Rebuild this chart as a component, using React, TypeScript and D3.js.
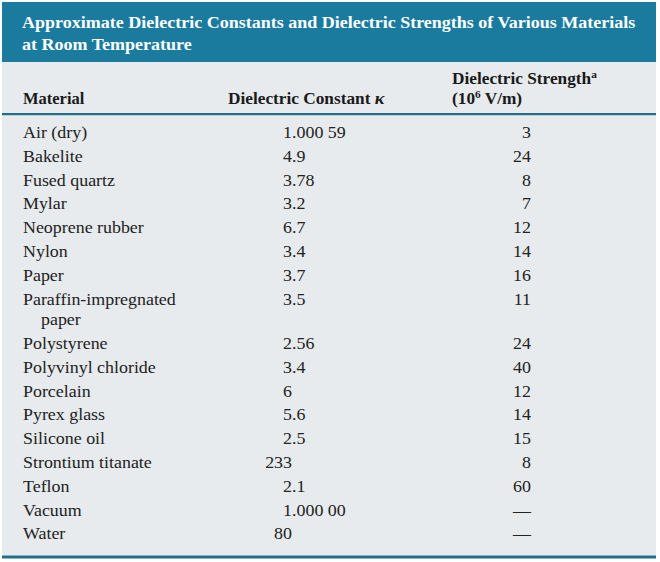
import React from "react";
import * as d3 from "d3";

const titleLines = [
  "Approximate Dielectric Constants and Dielectric Strengths of Various Materials",
  "at Room Temperature",
];
const materials = [
  ["Air (dry)"],
  ["Bakelite"],
  ["Fused quartz"],
  ["Mylar"],
  ["Neoprene rubber"],
  ["Nylon"],
  ["Paper"],
  ["Paraffin-impregnated", "paper"],
  ["Polystyrene"],
  ["Polyvinyl chloride"],
  ["Porcelain"],
  ["Pyrex glass"],
  ["Silicone oil"],
  ["Strontium titanate"],
  ["Teflon"],
  ["Vacuum"],
  ["Water"],
];
const constants = [
  "1.000 59", "4.9", "3.78", "3.2", "6.7", "3.4", "3.7", "3.5", "2.56",
  "3.4", "6", "5.6", "2.5", "233", "2.1", "1.000 00", "80",
];
const strengths = [
  "3", "24", "8", "7", "12", "14", "16", "11", "24", "40", "12", "14", "15",
  "8", "60", "—", "—",
];

const W = 660;
const H = 562;
const TEAL = "#1a7b9e";
const LINE = "#1f6f8a";
const BG = "#e7ebee";
const SERIF = "'Liberation Serif', 'Times New Roman', serif";

function T({
  x,
  y,
  sx = 1.12,
  anchor = "start",
  children,
  ...rest
}: any) {
  return (
    <text
      transform={`translate(${x},${y}) scale(${sx},1)`}
      textAnchor={anchor}
      {...rest}
    >
      {children}
    </text>
  );
}

export default function App() {
  const rowPitch = 23.8;
  const extraLine = 20.6;
  const starts: number[] = [];
  let acc = 0;
  materials.forEach((m) => {
    starts.push(acc);
    acc += rowPitch + (m.length - 1) * extraLine;
  });
  const y = d3.scaleLinear().domain([0, 1]).range([138, 139]);
  const xMat = 23;
  const xDec = 292; // decimal alignment point
  const xStr = 531;

  return (
    <svg
      width={W}
      height={H}
      style={{ position: "absolute", left: 0, top: 0, background: "#fff" }}
      fontFamily={SERIF}
    >
      <rect x={2} y={2} width={654} height={60} fill={TEAL} />
      <rect x={2} y={62} width={654} height={51} fill={BG} />
      <rect x={2} y={113} width={654} height={2.5} fill={LINE} />
      <rect x={2} y={115.5} width={654} height={440} fill={BG} />
      <rect x={2} y={555.5} width={654} height={3} fill={LINE} />

      {titleLines.map((t, i) => (
        <T
          key={i}
          x={22}
          y={28 + i * 22}
          sx={1.06}
          fill="#fff"
          fontWeight="bold"
          fontSize={17}
        >
          {t}
        </T>
      ))}

      <g fontWeight="bold" fontSize={16} fill="#1a1a1a">
        <T x={23} y={104} sx={1.03}>Material</T>
        <T x={228} y={104} sx={1.08}>
          Dielectric Constant{" "}
          <tspan fontStyle="italic" fontSize={17}>κ</tspan>
        </T>
        <T x={452} y={84} sx={1.08}>
          Dielectric Strength
          <tspan fontSize={10.5} dy={-6}>a</tspan>
        </T>
        <T x={452} y={104} sx={1.08}>
          (10<tspan fontSize={10.5} dy={-6}>6</tspan>
          <tspan dy={6}> V/m)</tspan>
        </T>
      </g>

      <g fontSize={16} fill="#222">
        {materials.map((m, i) => {
          const by = y(0) + starts[i];
          const v = constants[i];
          const k = v.indexOf(".");
          const intPart = k >= 0 ? v.slice(0, k) : v;
          const rest = k >= 0 ? v.slice(k) : "";
          return (
            <g key={i}>
              {m.map((line, j) => (
                <T key={j} x={xMat + (j > 0 ? 18 : 0)} y={by + j * extraLine}>
                  {line}
                </T>
              ))}
              <T x={xDec} y={by} anchor="end">
                {intPart}
              </T>
              {rest && (
                <T x={xDec} y={by}>
                  {rest}
                </T>
              )}
              <T x={xStr} y={by} anchor="end">
                {strengths[i]}
              </T>
            </g>
          );
        })}
      </g>
    </svg>
  );
}
